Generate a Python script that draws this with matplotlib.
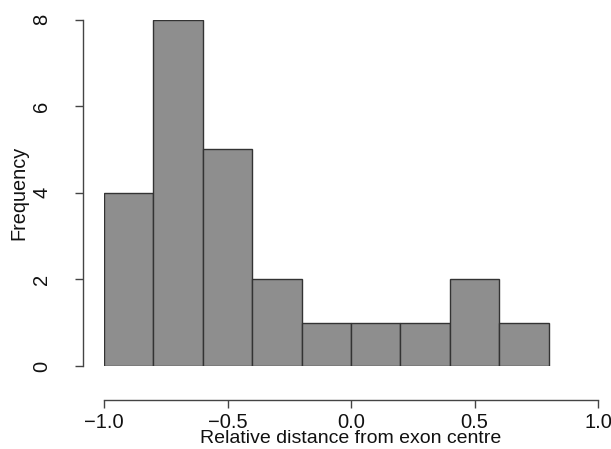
import numpy as np
import matplotlib.pyplot as plt

plt.rcParams['font.family'] = ['Liberation Sans', 'DejaVu Sans']

bin_edges = [-1.0, -0.8, -0.6, -0.4, -0.2, 0.0, 0.2, 0.4, 0.6, 0.8]
counts = [4, 8, 5, 2, 1, 1, 1, 2, 1]
xticks = [-1.0, -0.5, 0.0, 0.5, 1.0]
yticks = [0, 2, 4, 6, 8]

W, H = 611, 449
fig = plt.figure(figsize=(W / 100, H / 100), dpi=100)
ax = fig.add_axes([104 / W, 1 - 366 / H, (598 - 104) / W, (366 - 19.5) / H])

widths = np.diff(bin_edges)
ax.bar(bin_edges[:-1], counts, width=widths, align='edge',
       color='#8e8e8e', edgecolor='#333333', linewidth=1.0)

ax.set_xlim(-1.0, 1.0)
ax.set_ylim(0, 8)
for s in ['top', 'right']:
    ax.spines[s].set_visible(False)
ax.spines['left'].set_position(('outward', 15))
ax.spines['bottom'].set_position(('outward', 24.5))
ax.spines['left'].set_bounds(0, 8)
ax.spines['bottom'].set_bounds(-1.0, 1.0)
for s in ['left', 'bottom']:
    ax.spines[s].set_color('#444444')
    ax.spines[s].set_linewidth(1.0)

ax.set_xticks(xticks)
ax.set_xticklabels([('%.1f' % v).replace('-', '\u2212') for v in xticks])
ax.set_yticks(yticks)
ax.set_yticklabels([str(v) for v in yticks], rotation=90, va='center')
ax.tick_params(axis='both', length=6, width=1.0, color='#444444',
               labelsize=14.5, labelcolor='#111111')
ax.tick_params(axis='y', pad=17)
ax.tick_params(axis='x', pad=3)

ax.set_xlabel('Relative distance from exon centre', fontsize=14, color='#111111', labelpad=-1)
ax.set_ylabel('Frequency', fontsize=14.3, color='#111111', labelpad=3)

fig.savefig('out.png', dpi=100)
